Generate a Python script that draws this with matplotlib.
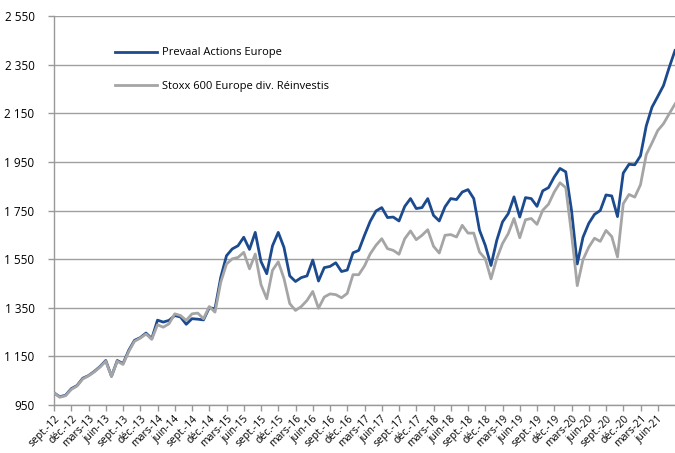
import matplotlib
matplotlib.use("Agg")
import matplotlib.pyplot as plt
import numpy as np

# monthly values, sept-12 .. sept-21
prevaal = [1000, 984, 990, 1017, 1030, 1060, 1071, 1088, 1108, 1133,
           1068, 1133, 1120, 1175, 1216, 1227, 1246, 1223, 1299, 1291,
           1298, 1318, 1312, 1282, 1305, 1303, 1300, 1350, 1346, 1475,
           1564, 1592, 1605, 1640, 1590, 1660, 1540, 1490, 1605, 1660,
           1598, 1481, 1458, 1474, 1481, 1546, 1460, 1515, 1520, 1535,
           1499, 1505, 1576, 1586, 1648, 1706, 1748, 1762, 1721, 1723,
           1707, 1767, 1799, 1758, 1762, 1799, 1730, 1707, 1765, 1799,
           1795, 1826, 1836, 1799, 1669, 1607, 1524, 1627, 1703, 1737,
           1806, 1723, 1803, 1799, 1767, 1831, 1844, 1888, 1923, 1909,
           1751, 1530, 1640, 1697, 1734, 1750, 1814, 1810, 1725, 1904,
           1940, 1938, 1975, 2098, 2175, 2219, 2264, 2339, 2408]

stoxx = [1000, 982, 988, 1014, 1028, 1057, 1070, 1086, 1106, 1130,
         1068, 1130, 1117, 1170, 1212, 1225, 1242, 1220, 1280, 1270,
         1284, 1325, 1318, 1298, 1325, 1328, 1305, 1355, 1332, 1455,
         1530, 1551, 1557, 1578, 1510, 1571, 1445, 1387, 1504, 1539,
         1470, 1367, 1339, 1355, 1380, 1417, 1348, 1394, 1407, 1404,
         1391, 1409, 1486, 1486, 1522, 1572, 1607, 1634, 1593, 1586,
         1570, 1634, 1666, 1630, 1648, 1671, 1603, 1575, 1648, 1651,
         1641, 1689, 1657, 1657, 1579, 1552, 1469, 1552, 1614, 1655,
         1717, 1638, 1712, 1717, 1693, 1751, 1776, 1826, 1864, 1844,
         1655, 1441, 1548, 1599, 1636, 1623, 1668, 1643, 1559, 1778,
         1816, 1805, 1856, 1980, 2028, 2079, 2107, 2148, 2188]

month_names = ["sept.", "déc.", "mars", "juin"]
tick_labels = []
for k in range(36):
    yr = 12 + (k + 2) // 4
    tick_labels.append(f"{month_names[k % 4]}-{yr}")

yticks = list(range(950, 2551, 200))
ytick_labels = [f"{v:,}".replace(",", " ") for v in yticks]

plt.rcParams['font.family'] = ['Open Sans', 'DejaVu Sans']

fig = plt.figure(figsize=(6.75, 4.53), dpi=100)
ax = fig.add_axes([54 / 675, 1 - 405 / 453, 621 / 675, 389 / 453])

x = np.arange(len(prevaal))
ax.plot(x, prevaal, color='#1c4a8e', linewidth=2.0, label='Prevaal Actions Europe', zorder=3)
ax.plot(x, stoxx, color='#a5a5a5', linewidth=2.0, label='Stoxx 600 Europe div. Réinvestis', zorder=4)

ax.set_xlim(0, 108)
ax.set_ylim(950, 2550)
ax.set_yticks(yticks)
ax.set_yticklabels(ytick_labels, fontsize=8.5)
ax.set_xticks(np.arange(0, 106, 3))
ax.set_xticklabels(tick_labels, rotation=45, ha='right', rotation_mode='anchor', fontsize=7.5)

ax.grid(axis='y', color='#a0a0a0', linewidth=1.0)
ax.set_axisbelow(True)
for s in ['top', 'right']:
    ax.spines[s].set_visible(False)
for s in ['left', 'bottom']:
    ax.spines[s].set_color('#999999')
    ax.spines[s].set_linewidth(1.0)
ax.tick_params(axis='both', colors='#999999', length=4, width=1.0, labelcolor='black')
ax.tick_params(axis='y', pad=10)
ax.tick_params(axis='x', pad=2)

handles, labels = ax.get_legend_handles_labels()
ax.legend(handles, labels, loc='upper left', bbox_to_anchor=(0.082, 0.945),
          frameon=False, fontsize=8, labelspacing=2.0, handlelength=3.8,
          handletextpad=0.4)

fig.savefig('out.png', dpi=100)
